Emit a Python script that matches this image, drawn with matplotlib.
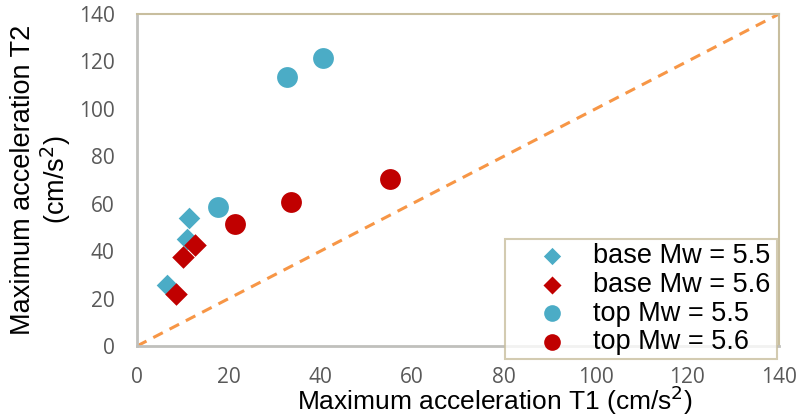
import matplotlib
matplotlib.use("Agg")
import matplotlib.pyplot as plt
import numpy as np

plt.rcParams['font.family'] = ['Liberation Sans', 'DejaVu Sans']

base55_x = [11.4, 11.0, 6.6]
base55_y = [53.9, 45.0, 25.7]
base56_x = [12.7, 10.1, 8.4]
base56_y = [42.6, 37.4, 21.8]
top55_x = [17.7, 32.7, 40.6]
top55_y = [58.8, 113.4, 121.5]
top56_x = [21.3, 33.5, 55.1]
top56_y = [51.3, 60.6, 70.6]
ticks = [0, 20, 40, 60, 80, 100, 120, 140]

cyan = '#4BACC6'
red = '#C00000'
orange = '#F79646'
tan = '#C8BE9E'
gray = '#C0C0BC'

fig = plt.figure(figsize=(7.99, 4.17), dpi=100)
ax = fig.add_axes([137/799, 71/417, 642/799, 332/417])

ax.plot([0, 140], [0, 140], color=orange, lw=2.2, ls=(0, (3.5, 2.5)), zorder=1)
ax.scatter(base55_x, base55_y, marker='D', s=11**2, color=cyan, lw=0, zorder=3, label='base Mw = 5.5')
ax.scatter(base56_x, base56_y, marker='D', s=11.5**2, color=red, lw=0, zorder=4, label='base Mw = 5.6')
ax.scatter(top55_x, top55_y, marker='o', s=15**2, color=cyan, lw=0, zorder=5, label='top Mw = 5.5')
ax.scatter(top56_x, top56_y, marker='o', s=15**2, color=red, lw=0, zorder=6, label='top Mw = 5.6')

ax.set_xlim(0, 140)
ax.set_ylim(0, 140)
ax.set_xticks(ticks)
ax.set_yticks(ticks)
ax.tick_params(length=0, labelsize=15, labelcolor='#595959')
ax.tick_params(axis='x', pad=15)
ax.tick_params(axis='y', pad=16)
for lab in ax.get_xticklabels() + ax.get_yticklabels():
    lab.set_family(['Open Sans', 'DejaVu Sans'])

ax.spines['left'].set_color(gray)
ax.spines['bottom'].set_color(gray)
ax.spines['left'].set_linewidth(2)
ax.spines['bottom'].set_linewidth(2)
ax.spines['top'].set_color(tan)
ax.spines['right'].set_color(tan)
ax.spines['top'].set_linewidth(1.5)
ax.spines['right'].set_linewidth(1.5)

ax.set_xlabel('Maximum acceleration T1 (cm/s$^2$)', fontsize=19)
ax.xaxis.set_label_coords(0.558, -0.193, transform=ax.transAxes)
ax.xaxis.label.set_va('baseline')
ax.set_ylabel('Maximum acceleration T2\n(cm/s$^2$)', fontsize=19.5, labelpad=4, linespacing=1.1)

leg = ax.legend(loc='upper left', bbox_to_anchor=(0.573, 0.322, 0.424, 0.0), mode='expand',
                fontsize=19.5, frameon=True, fancybox=False, borderpad=0.15,
                labelspacing=0.1, handlelength=3.2, handletextpad=-0.08, markerscale=0.8,
                borderaxespad=0)
leg.get_frame().set_edgecolor(tan)
leg.get_frame().set_linewidth(1.5)
leg.set_zorder(10)
leg.set_clip_on(False)

fig.savefig('out.png', dpi=100)
